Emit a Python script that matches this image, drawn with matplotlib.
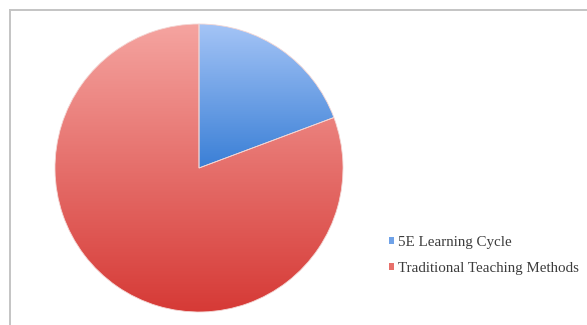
import matplotlib.pyplot as plt
import matplotlib.colors as mcolors
import numpy as np
from matplotlib.lines import Line2D
from matplotlib.patches import Patch

# udzial metod nauczania
kategorie = ["5E Learning Cycle", "Traditional Teaching Methods"]
udzialy = [19.3, 80.7]
kolory_gora = ["#a4c4f6", "#f5a4a0"]
kolory_dol = ["#3a7fd6", "#d63a36"]
kolory_srodek = ["#6fa2e8", "#e8706b"]

W, H = 587, 325
fig = plt.figure(figsize=(W / 100, H / 100), dpi=100)
fig.patch.set_facecolor("white")

# ramka wykresu (lewa i gorna krawedz)
fig.add_artist(Line2D([10 / W, 10 / W], [0, 1 - 10 / H], transform=fig.transFigure,
                      color="#c4c4c4", lw=1.4))
fig.add_artist(Line2D([10 / W, 1], [1 - 10 / H, 1 - 10 / H], transform=fig.transFigure,
                      color="#c4c4c4", lw=1.4))

cx, cy, r = 199, 168, 144
ax = fig.add_axes([(cx - r) / W, (H - cy - r) / H, 2 * r / W, 2 * r / H])

wedges, _ = ax.pie(udzialy, startangle=90, counterclock=False, radius=1,
                   colors=kolory_srodek, wedgeprops=dict(edgecolor="none"))
ax.set_aspect("equal")
ax.axis("off")


def gradient(c1, c2):
    a = np.array(mcolors.to_rgb(c1))
    b = np.array(mcolors.to_rgb(c2))
    t = np.linspace(0, 1, 256)[:, None]
    return (a * (1 - t) + b * t)[:, None, :]


# gradient pionowy w obrebie kazdego wycinka
for w, c1, c2 in zip(wedges, kolory_gora, kolory_dol):
    ext = w.get_path().get_extents(w.get_transform() + ax.transData.inverted())
    im = ax.imshow(gradient(c1, c2), extent=(ext.x0, ext.x1, ext.y0, ext.y1),
                   origin="upper", aspect="auto", zorder=2)
    im.set_clip_path(w)
    w.set_facecolor("none")
    w.set_zorder(3)
    w.set_edgecolor("#f3d6d4")
    w.set_linewidth(0.6)

ax.set_xlim(-1, 1)
ax.set_ylim(-1, 1)

uchwyty = [Patch(facecolor=c) for c in kolory_srodek]
fig.legend(uchwyty, kategorie, loc="center left",
           bbox_to_anchor=(389 / W, 1 - 255.5 / H), frameon=False,
           prop=dict(family="Liberation Serif", size=10.8),
           handlelength=0.35, handleheight=0.35, handletextpad=0.25,
           labelspacing=0.85, borderpad=0, borderaxespad=0,
           labelcolor="#3c3c3c")

fig.savefig("out.png", dpi=100)
